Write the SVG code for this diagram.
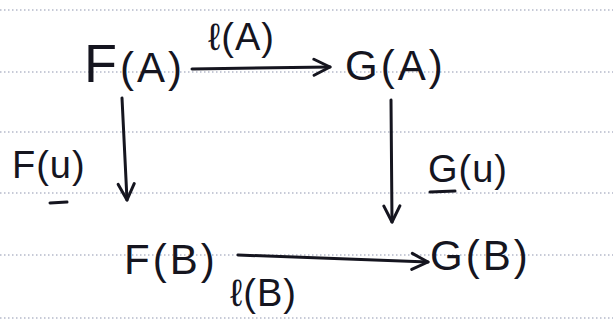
<svg xmlns="http://www.w3.org/2000/svg" width="613" height="330" viewBox="0 0 613 330">
<style>
.rule{stroke:#8f96b0;stroke-width:1.2;stroke-dasharray:1.5 2.5}
.t{font-family:"Liberation Sans",sans-serif;fill:#15151f}
.n{font-size:42px;letter-spacing:3px}
.l{font-size:38px;letter-spacing:1px}
.e{stroke:#15151f;stroke-width:3;fill:none;stroke-linecap:round;stroke-linejoin:round}
</style>
<defs>
<marker id="ah" viewBox="0 0 20 20" refX="18" refY="10" markerWidth="20" markerHeight="20" markerUnits="userSpaceOnUse" orient="auto">
<path d="M2 2 L18 10 L2 18" fill="none" stroke="#15151f" stroke-width="3" stroke-linecap="round" stroke-linejoin="round"/>
</marker>
</defs>
<rect width="613" height="330" fill="#ffffff"/>
<g id="paper">
<line class="rule" x1="0" y1="10" x2="613" y2="10"/>
<line class="rule" x1="0" y1="72" x2="613" y2="72"/>
<line class="rule" x1="0" y1="132" x2="613" y2="132"/>
<line class="rule" x1="0" y1="193" x2="613" y2="193"/>
<line class="rule" x1="0" y1="255" x2="613" y2="255"/>
<line class="rule" x1="0" y1="318" x2="613" y2="318"/>
</g>
<g id="FA"><text class="t n" x="84" y="82" letter-spacing="0"><tspan font-size="54">F</tspan>(A)</text></g>
<g id="GA"><text class="t n" x="345" y="80">G(A)</text></g>
<g id="FB"><text class="t n" x="124" y="274">F(B)</text></g>
<g id="GB"><text class="t n" x="430" y="270">G(B)</text></g>
<g id="connectors">
<path class="e" d="M192 69 L330 67" marker-end="url(#ah)"/>
<path class="e" d="M122 98 L127 200" marker-end="url(#ah)"/>
<path class="e" d="M391 100 L392 222" marker-end="url(#ah)"/>
<path class="e" d="M238 255 L428 262" marker-end="url(#ah)"/>
</g>
<g id="labels">
<text class="t l" x="208" y="50">ℓ(A)</text>
<text class="t l" x="12" y="178">F(u)</text>
<line class="e" x1="50" y1="203" x2="67" y2="202" stroke-width="2"/>
<text class="t l" x="428" y="182">G(u)</text>
<line class="e" x1="430" y1="192" x2="455" y2="191" stroke-width="2"/>
<text class="t l" x="230" y="306">ℓ(B)</text>
</g>
</svg>
